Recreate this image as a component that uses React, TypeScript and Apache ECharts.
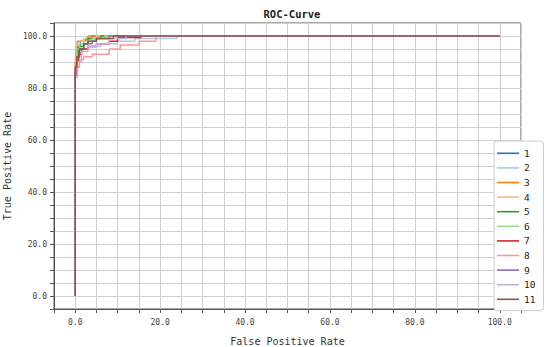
import React, { useEffect, useRef } from "react";
import * as echarts from "echarts";

// ROC curves: [FPR %, TPR %] corner points
const names = ["1", "2", "3", "4", "5", "6", "7", "8", "9", "10", "11"];
const colors = ["#1f77b4", "#aec7e8", "#ff7f0e", "#ffbb78", "#2ca02c", "#98df8a", "#d62728", "#ff9896", "#9467bd", "#c5b0d5", "#8c564b"];

const roc1 = [[0, 0], [0, 88], [0.3, 93], [0.6, 96], [1.2, 98], [2.5, 99], [4, 100], [100, 100]];
const roc2 = [[0, 0], [0, 86], [0.5, 92], [1, 95], [3, 96], [6, 97], [10, 98], [14, 99], [24, 100], [100, 100]];
const roc3 = [[0, 0], [0, 90], [0.2, 96], [0.5, 98], [3, 100], [100, 100]];
const roc4 = [[0, 0], [0, 92], [0.3, 97], [1, 98], [2, 99], [5, 100], [100, 100]];
const roc5 = [[0, 0], [0, 86], [0.3, 92], [0.8, 96], [2, 97], [3, 99], [6, 100], [100, 100]];
const roc6 = [[0, 0], [0, 88], [0.4, 95], [1, 97], [2, 98], [4, 99], [7, 100], [100, 100]];
const roc7 = [[0, 0], [0, 85], [0.3, 90], [0.8, 93], [1.5, 95], [3, 96], [5, 97], [8, 98], [10, 99.4], [15.5, 100], [100, 100]];
const roc8 = [[0, 0], [0, 88], [1, 91], [2, 92], [4, 93], [8, 95], [10.6, 96.5], [15, 98], [19, 100], [100, 100]];
const roc9 = [[0, 0], [0, 86], [0.5, 92], [1, 95], [2, 97], [4, 98], [5, 99], [8, 100], [100, 100]];
const roc10 = [[0, 0], [0, 84], [0.5, 90], [1.5, 94], [3, 96], [5, 97], [8, 99], [12, 100], [100, 100]];
const roc11 = [[0, 0], [0, 88], [0.4, 92], [1, 95], [2, 97], [3, 98], [5, 99], [9, 100], [100, 100]];

const curves = [roc1, roc2, roc3, roc4, roc5, roc6, roc7, roc8, roc9, roc10, roc11];

const FONT = "DejaVu Sans Mono";

export default function App() {
  const ref = useRef<HTMLDivElement>(null);
  useEffect(() => {
    if (!ref.current) return;
    const chart = echarts.init(ref.current, null, { renderer: "svg" });
    const axisCommon = {
      type: "value" as const,
      min: -5,
      max: 105,
      interval: 5,
      nameLocation: "middle" as const,
      nameTextStyle: { fontFamily: FONT, fontSize: 10, color: "#333" },
      axisLine: { show: true, onZero: false, lineStyle: { color: "#555", width: 1 } },
      axisTick: { show: true, length: 4, lineStyle: { color: "#555" } },
      axisLabel: {
        fontFamily: FONT,
        fontSize: 8,
        color: "#444",
        showMinLabel: true,
        showMaxLabel: true,
        formatter: (v: number) => (Math.abs(v % 20) < 1e-9 && v >= 0 && v <= 100 ? v.toFixed(1) : ""),
      },
      splitLine: { show: true, lineStyle: { color: "#d0d0d0", width: 1 } },
    };
    chart.setOption({
      animation: false,
      backgroundColor: "#fff",
      title: {
        text: "ROC-Curve",
        left: 287,
        textAlign: "center",
        top: 3,
        textStyle: { fontFamily: FONT, fontSize: 10.5, fontWeight: "bold", color: "#222" },
      },
      grid: {
        left: 54, right: 29, top: 23, bottom: 38,
        containLabel: false, outerBoundsMode: "none",
        show: true, borderColor: "#555", borderWidth: 1,
      },
      xAxis: { ...axisCommon, name: "False Positive Rate", nameGap: 27, axisLabel: { ...axisCommon.axisLabel, margin: 9 } },
      yAxis: { ...axisCommon, name: "True Positive Rate", nameGap: 42, axisLabel: { ...axisCommon.axisLabel, margin: 7 } },
      legend: {
        orient: "vertical",
        left: 494,
        top: 141,
        icon: "rect",
        itemWidth: 22,
        itemHeight: 1.6,
        itemGap: 2,
        padding: [6, 8, 5, 3],
        backgroundColor: "#fff",
        borderColor: "#ccc",
        borderWidth: 1,
        borderRadius: 3,
        textStyle: { fontFamily: FONT, fontSize: 9.5, lineHeight: 12.6, color: "#222" },
        data: names,
      },
      series: curves.map((c, i) => ({
        name: names[i],
        type: "line",
        data: c,
        step: "end",
        symbol: "none",
        color: colors[i],
        lineStyle: { width: 1.5, color: colors[i] },
      })),
    });
    return () => chart.dispose();
  }, []);
  return <div ref={ref} style={{ position: "fixed", left: 0, top: 0, width: 550, height: 347 }} />;
}
